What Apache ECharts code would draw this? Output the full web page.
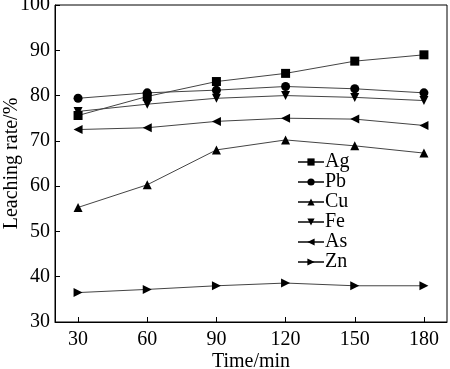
<!DOCTYPE html>
<html><head><meta charset="utf-8">
<script src="https://cdn.jsdelivr.net/npm/echarts@6/dist/echarts.min.js"></script>
<style>html,body{margin:0;padding:0;background:#fff}#c{width:450px;height:369px}</style>
</head><body><div id="c"></div>
<script>
const times = [30, 60, 90, 120, 150, 180];
const xTicks = [30, 60, 90, 120, 150, 180];
const yTicks = [30, 40, 50, 60, 70, 80, 90, 100];
const Ag = [75.6, 79.8, 83.1, 84.9, 87.6, 89.0];
const Pb = [79.4, 80.6, 81.2, 82.0, 81.5, 80.6];
const Cu = [55.3, 60.3, 68.0, 70.2, 68.9, 67.3];
const Fe = [76.5, 78.1, 79.4, 80.0, 79.6, 78.9];
const As = [72.5, 72.9, 74.3, 75.0, 74.8, 73.4];
const Zn = [36.5, 37.2, 38.0, 38.6, 38.0, 38.0];

const font = 'Liberation Serif';
function mk(name, vals, symbol, rot) {
  return {
    name, type: 'line', data: times.map((t, i) => [t, vals[i]]),
    symbol, symbolSize: 9, symbolRotate: rot,
    lineStyle: { color: '#444', width: 1 },
    itemStyle: { color: '#000' },
    animation: false
  };
}
const chart = echarts.init(document.getElementById('c'));
chart.setOption({
  backgroundColor: '#fff',
  grid: { left: 55, right: 3, top: 5, bottom: 47, outerBoundsMode: 'none', containLabel: false },
  legend: {
    orient: 'vertical', left: 292, top: 147, itemWidth: 26, itemHeight: 9, itemGap: 0,
    textStyle: { fontFamily: font, fontSize: 20, color: '#000', padding: [0,0,0,-4] },
    data: ['Ag', 'Pb', 'Cu', 'Fe', 'As', 'Zn']
  },
  xAxis: {
    type: 'value', min: 20, max: 190,
    name: 'Time/min', nameLocation: 'middle', nameGap: 30, nameMoveOverlap: false,
    nameTextStyle: { fontFamily: font, fontSize: 20, color: '#000' },
    axisLine: { lineStyle: { color: '#000', width: 1 } },
    axisTick: { inside: true, length: 5, customValues: xTicks, lineStyle: { color: '#000' } },
    axisLabel: { customValues: xTicks, fontFamily: font, fontSize: 20, color: '#000', margin: 8 },
    splitLine: { show: false }
  },
  yAxis: {
    type: 'value', min: 30, max: 100, interval: 10,
    name: 'Leaching rate/%', nameLocation: 'middle', nameGap: 33, nameMoveOverlap: false,
    nameTextStyle: { fontFamily: font, fontSize: 20, color: '#000' },
    axisLine: { show: true, lineStyle: { color: '#000', width: 1 } },
    axisTick: { inside: true, length: 5, lineStyle: { color: '#000' } },
    axisLabel: { fontFamily: font, fontSize: 20, color: '#000', margin: 5 },
    splitLine: { show: false }
  },
  series: [
    mk('Ag', Ag, 'rect', 0),
    mk('Pb', Pb, 'circle', 0),
    mk('Cu', Cu, 'triangle', 0),
    mk('Fe', Fe, 'triangle', 180),
    mk('As', As, 'triangle', 90),
    mk('Zn', Zn, 'triangle', -90)
  ],
  graphic: [
    { type: 'rect', shape: { x: 55, y: 5, width: 392, height: 317 }, style: { fill: 'none', stroke: '#000', lineWidth: 1 }, silent: true }
  ]
});
</script></body></html>
